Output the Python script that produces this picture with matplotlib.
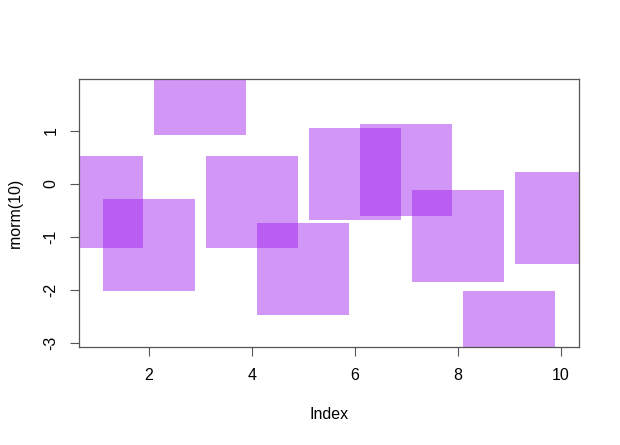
import numpy as np
import matplotlib.pyplot as plt

plt.rcParams['font.family'] = ['Liberation Sans', 'DejaVu Sans']

# values (rnorm(10) draws)
index = [1, 2, 3, 4, 5, 6, 7, 8, 9, 10]
values = [-0.343, -1.151, 1.796, -0.334, -1.604, 0.195, 0.264, -0.981, -2.881, -0.642]
xticks = [2, 4, 6, 8, 10]
yticks = [-3, -2, -1, 0, 1]

fig = plt.figure(figsize=(6.2, 4.45), dpi=100)
ax = fig.add_axes([78.7 / 620, 1 - 346.7 / 445, 500.6 / 620, 268 / 445])

# big translucent squares, like pch=15 with a large cex in R
ax.plot(index, values, linestyle='none', marker='s', markersize=93 * 0.72,
        markeredgewidth=0, color='#A020F0', alpha=0.47)

# R style padding of 4% on both axes
xr = max(index) - min(index)
yr = max(values) - min(values)
ax.set_xlim(min(index) - 0.04 * xr, max(index) + 0.04 * xr)
ax.set_ylim(min(values) - 0.04 * yr, max(values) + 0.04 * yr)

ax.set_xticks(xticks)
ax.set_yticks(yticks)
ax.set_xticklabels([str(t) for t in xticks])
ax.set_yticklabels([str(t) for t in yticks], rotation=90, va='center')
ax.tick_params(axis='both', length=6.5, width=0.8, color='#555555',
               labelsize=11.5, labelcolor='black')
ax.tick_params(axis='x', pad=9)
ax.tick_params(axis='y', pad=8)

for s in ax.spines.values():
    s.set_color('#555555')
    s.set_linewidth(0.9)

ax.set_xlabel('Index', fontsize=11.5, va='center')
ax.set_ylabel('rnorm(10)', fontsize=11.5, va='center')
ax.xaxis.set_label_coords(0.5, -68 / 268)
ax.yaxis.set_label_coords(-63.7 / 500.6, 0.5)

fig.savefig('out.png', dpi=100)
